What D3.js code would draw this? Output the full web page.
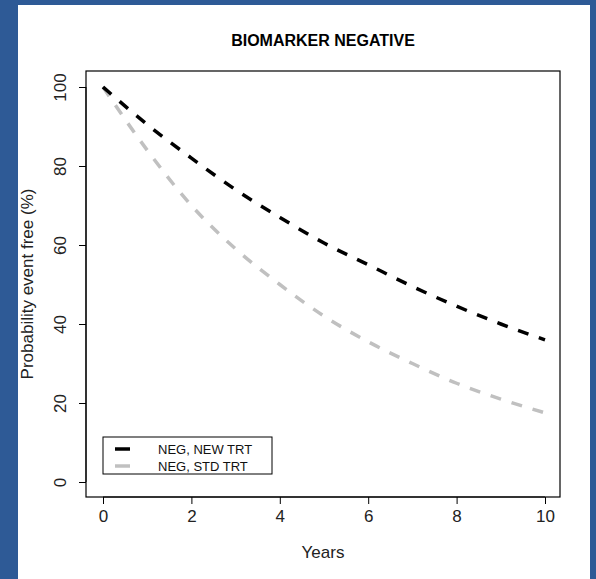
<!DOCTYPE html><html><head><script src="https://d3js.org/d3.v7.min.js"></script>
<style>body{margin:0;background:#2e5a96}svg{display:block}text{font-family:"Liberation Sans",Arial,sans-serif}</style></head><body>
<script>
const years=[0,1,2,3,4,5,6,7,8,9,10];
const newTrt=[100,90.5,82,74,67,60.5,55,49.5,44.5,40,36];
const stdTrt=[100,84,70,59,50,42,35.5,30,25,21,17.5];
const xTicks=[0,2,4,6,8,10], yTicks=[0,20,40,60,80,100];
const W=596,H=579;
const svg=d3.select("body").append("svg").attr("width",W).attr("height",H);
svg.append("rect").attr("x",0).attr("y",0).attr("width",W).attr("height",H).attr("fill","#2e5a96");
svg.append("rect").attr("x",18).attr("y",5).attr("width",572).attr("height",574).attr("fill","#fff");
const x=d3.scaleLinear().domain([0,10]).range([103,545]);
const y=d3.scaleLinear().domain([0,100]).range([482,87]);
svg.append("rect").attr("x",86).attr("y",71).attr("width",474).attr("height",426).attr("fill","none").attr("stroke","#000").attr("stroke-width",1.2);
svg.append("g").attr("transform","translate(0,497)").call(d3.axisBottom(x).tickValues(xTicks).tickSize(7).tickPadding(6))
 .call(g=>{g.select(".domain").attr("d","M103,0H545");g.selectAll("text").attr("font-size",17).attr("fill","#222");});
const ya=svg.append("g").attr("transform","translate(86,0)").call(d3.axisLeft(y).tickValues(yTicks).tickSize(7))
 .call(g=>{g.select(".domain").attr("d","M0,87V482");});
ya.selectAll(".tick text").attr("x",0).attr("y",0).attr("dy",0).attr("text-anchor","middle").attr("font-size",17).attr("fill","#222")
 .attr("transform","translate(-20,0) rotate(-90)");
const line=d3.line().x((d,i)=>x(years[i])).y(d=>y(d)).curve(d3.curveMonotoneX);
svg.append("path").attr("d",line(stdTrt)).attr("fill","none").attr("stroke","#c0c0c0").attr("stroke-width",3.5).attr("stroke-dasharray","11,11");
svg.append("path").attr("d",line(newTrt)).attr("fill","none").attr("stroke","#000").attr("stroke-width",3.5).attr("stroke-dasharray","11,11");
svg.append("text").attr("x",323).attr("y",46).attr("text-anchor","middle").attr("font-size",16).attr("font-weight","bold").text("BIOMARKER NEGATIVE");
svg.append("text").attr("x",323).attr("y",558).attr("text-anchor","middle").attr("font-size",17).attr("fill","#222").text("Years");
svg.append("text").attr("transform","translate(33,284) rotate(-90)").attr("text-anchor","middle").attr("font-size",17).attr("fill","#222").text("Probability event free (%)");
const lg=svg.append("g");
lg.append("rect").attr("x",103).attr("y",437).attr("width",169).attr("height",37).attr("fill","#fff").attr("stroke","#000");
[["NEG, NEW TRT","#000"],["NEG, STD TRT","#c0c0c0"]].forEach((d,i)=>{const yy=449+i*17;
 lg.append("line").attr("x1",115).attr("x2",130).attr("y1",yy).attr("y2",yy).attr("stroke",d[1]).attr("stroke-width",3.5);
 lg.append("text").attr("x",158).attr("y",yy+4.5).attr("font-size",13).attr("fill","#111").text(d[0]);});
</script></body></html>
